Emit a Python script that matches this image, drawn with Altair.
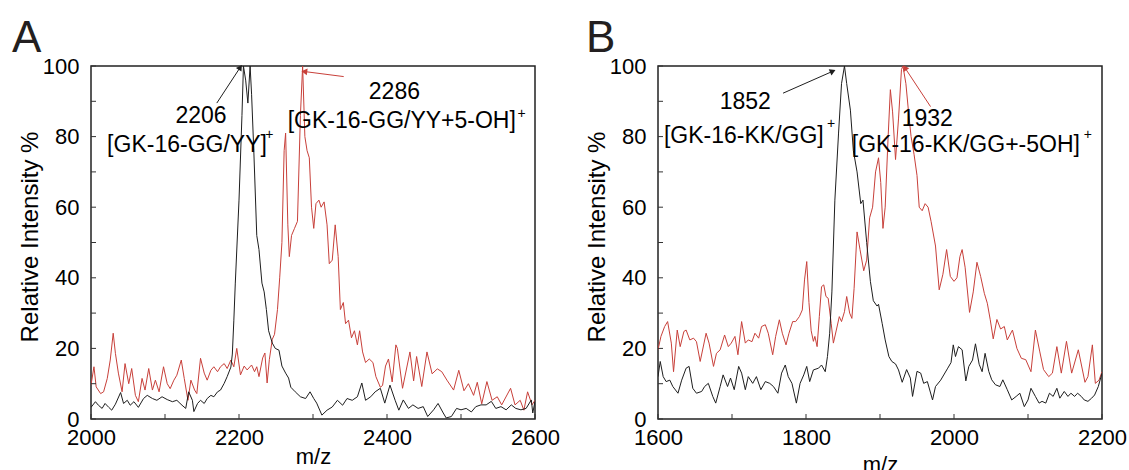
import math
import altair as alt
import pandas as pd

FONT = "Liberation Sans"
W, H = 444, 353
BLACK = "#1e1e1e"
RED = "#c8403a"

# ---------------- data (m/z, relative intensity %) ----------------
A_black = [(2000,3.3),(2006,4.9),(2010,3.9),(2015,3.0),(2019,4.4),(2024,3.3),(2028,2.5),(2033,4.2),(2040,7.5),(2044,4.4),
           (2049,5.3),(2053,3.9),(2058,4.9),(2064,3.3),(2071,5.8),(2076,6.7),(2083,5.8),(2089,5.3),(2096,6.3),(2103,5.5),
           (2110,4.9),(2116,5.3),(2123,3.9),(2128,3.0),(2132,7.7),(2137,5.3),(2139,2.1),(2144,4.4),(2148,5.3),(2153,4.4),
           (2157,5.8),(2162,6.7),(2166,6.3),(2171,7.7),(2175,8.2),(2180,10.1),(2184,12),(2189,14.7),(2191,18.4),(2193,27.8),
           (2195,38.5),(2200,62),(2204,86),(2206,100),(2209,96),(2212,89.5),(2215,100),(2217,92),(2220,76),(2224,52),
           (2227,48),(2231,38.5),(2234,36),(2237,31),(2240,25),(2245,21.5),(2249,20),(2254,19.5),(2258,15),(2263,13),
           (2267,11.6),(2270,9),(2276,7.7),(2283,6.3),(2290,5.8),(2296,7.7),(2301,5.8),(2305,4.5),(2312,1.1),(2319,2.5),
           (2326,3.4),(2333,5.3),(2340,3.9),(2346,5.8),(2353,5.3),(2360,6.3),(2366,10.2),(2371,5.3),(2378,6.3),(2384,7.7),
           (2391,8.7),(2397,4.5),(2404,9.6),(2411,5.3),(2416,2.5),(2422,5.4),(2429,3),(2435,4),(2442,3),(2449,3.5),
           (2455,0.7),(2463,2.6),(2469,4.4),(2476,1.7),(2480,0.3),(2487,0.7),(2494,3),(2500,2.6),(2507,3),(2514,2),
           (2520,3.5),(2527,4),(2534,4),(2541,5),(2547,3),(2554,3.5),(2561,2.6),(2568,4),(2574,3),(2581,2.6),
           (2588,3),(2595,5.4),(2597,1.7),(2600,5)]

A_red = [(2000,9.6),(2004,14.8),(2007,9.1),(2013,7.2),(2017,7.7),(2022,11.5),(2026,16.7),(2030,24.3),(2033,18.6),(2037,13),
         (2042,7.7),(2046,15.7),(2051,10),(2055,14.3),(2060,6.7),(2064,4.9),(2069,11.5),(2073,8.2),(2078,14.3),(2083,8.2),
         (2087,11),(2092,7.7),(2098,14.8),(2103,10),(2107,8.6),(2112,11),(2116,12.4),(2122,16.7),(2126,11.5),(2131,5.3),
         (2135,11),(2140,8.2),(2143,7.2),(2148,17.2),(2153,13),(2157,11),(2162,13.8),(2166,14.8),(2171,13.4),(2175,14.8),
         (2180,15.7),(2184,14.3),(2189,16.7),(2193,14.8),(2197,20),(2202,12.5),(2207,15),(2211,13.9),(2217,15.3),(2221,13.4),
         (2224,14.8),(2227,12),(2232,17.3),(2235,18.7),(2238,10.2),(2241,16.8),(2245,22.6),(2248,24),(2252,31),(2255,40),
         (2258,50),(2261,76),(2263,81),(2266,55),(2268,46),(2271,52),(2275,54),(2279,56),(2283,86),(2286,100),
         (2289,80),(2292,76),(2295,74),(2298,60),(2301,54),(2304,61),(2308,62),(2311,60),(2315,61.5),(2319,55),
         (2322,44),(2326,45),(2330,55),(2334,46),(2337,31),(2341,33),(2344,27),(2348,28),(2352,23),(2356,25),
         (2360,21),(2363,25),(2367,19),(2371,16),(2376,17),(2381,16),(2385,12),(2391,9),(2394,9.5),(2398,15),
         (2402,17),(2407,10.5),(2412,21),(2414,20),(2421,8.7),(2431,19),(2436,10.8),(2440,17.7),(2447,9.2),(2454,19),
         (2461,12.8),(2468,14.2),(2474,13.4),(2481,11),(2490,8.2),(2497,13.8),(2504,8),(2510,10),(2517,6.7),(2522,10.4),
         (2528,4.3),(2535,10.6),(2542,5.3),(2549,6.3),(2555,4),(2567,8.7),(2573,4),(2580,5.3),(2585,2.5),(2590,7.7),
         (2596,4),(2600,5.3)]

B_black = [(1600,12),(1603,16.3),(1607,12),(1611,10.6),(1616,11),(1620,9.2),(1627,7.3),(1632,11),(1638,14.4),(1642,14.9),
           (1647,8.7),(1652,7.3),(1659,7.8),(1663,9.2),(1668,10.1),(1674,6.4),(1678,4.5),(1684,9.2),(1688,12.5),(1694,9.2),
           (1698,11.6),(1703,8.3),(1709,14.9),(1713,13),(1718,8.3),(1722,12),(1728,10.1),(1733,12),(1739,8.3),(1745,10.6),
           (1751,10.1),(1756,9.2),(1762,7.3),(1767,13),(1772,15.3),(1776,12),(1781,10.1),(1787,4.5),(1792,10.1),(1797,12.5),
           (1801,14.9),(1805,10.6),(1810,13.9),(1817,14.4),(1821,15.3),(1826,13.4),(1829,17.7),(1832,24.3),(1835,36),(1839,62),
           (1844,81),(1848,95),(1852,100),(1855,95),(1860,87.5),(1864,76),(1869,70),(1874,61),(1877,62),(1882,50),
           (1887,39),(1891,33.5),(1896,32),(1898,32.5),(1903,27),(1907,22.4),(1912,17.7),(1916,16.3),(1921,15.6),(1925,13.9),
           (1930,10.4),(1936,14),(1941,11.6),(1944,6.4),(1950,13.5),(1955,13),(1959,10.1),(1964,10.6),(1971,5.4),(1975,9.2),
           (1982,11),(1991,14.2),(1996,16),(1999,21),(2002,17.7),(2006,20.5),(2011,19.6),(2016,10.8),(2020,14.9),(2025,16.7),
           (2029,21.3),(2034,15.5),(2038,13.4),(2042,18.6),(2047,13.5),(2051,11.1),(2056,9.7),(2062,9.2),(2066,11.1),(2072,8.3),
           (2078,5.4),(2084,6.4),(2089,7.3),(2095,3.5),(2100,5.4),(2104,8.7),(2110,6.4),(2115,4.5),(2119,5),(2124,4.5),
           (2129,7.3),(2134,6.4),(2139,8.7),(2143,5.9),(2149,7.8),(2154,6.4),(2158,7.3),(2163,6.4),(2167,7.3),(2172,6.4),
           (2176,5.4),(2181,5),(2186,5.9),(2190,6.8),(2195,9.2),(2200,13)]

B_red = [(1600,19.6),(1604,23.4),(1609,26.2),(1613,27.6),(1618,21.5),(1621,13.4),(1626,25.2),(1630,20.5),(1635,24.8),(1638,25.2),
         (1643,22.4),(1648,22.9),(1652,21.9),(1657,16.3),(1665,24.3),(1669,21.5),(1675,14.9),(1679,18.6),(1684,19.6),(1690,23.8),
         (1695,20.5),(1699,21.5),(1704,23.4),(1708,18.2),(1713,27.6),(1718,21.5),(1722,22.4),(1727,21.9),(1731,24.3),(1736,22.9),
         (1740,26.2),(1745,26.7),(1749,24.3),(1755,18.2),(1759,23.4),(1764,28.1),(1768,24.3),(1773,21),(1777,24.3),(1782,27.6),
         (1786,27.6),(1791,29),(1795,30.9),(1798,39.4),(1801,44.6),(1804,33),(1807,25),(1810,22),(1812,23.4),(1815,20.5),
         (1818,29),(1821,37.5),(1824,38),(1827,34.7),(1830,34.2),(1834,27.1),(1837,21.5),(1841,25.2),(1845,29),(1848,27.6),
         (1852,30.4),(1855,34.7),(1859,30),(1862,28.5),(1865,37),(1869,53),(1873,48),(1878,42),(1882,45),(1886,57),
         (1890,60),(1894,70),(1898,74),(1901,67),(1904,54),(1907,60),(1911,80),(1914,93.3),(1917,87),(1921,73.5),
         (1925,85),(1929,99),(1931,100),(1935,95),(1939,86),(1942,80),(1946,75),(1950,69),(1953,60),(1957,59),
         (1961,61),(1965,60),(1969,56),(1975,49),(1980,36.6),(1985,41),(1990,48),(1995,40.4),(2000,39),(2004,40),
         (2008,46),(2011,48),(2015,43),(2021,30.2),(2026,36),(2031,44.4),(2036,40.4),(2041,35.6),(2045,32.8),(2049,28.1),
         (2053,22.7),(2058,28.2),(2063,25.5),(2068,26.2),(2072,22.4),(2079,25.2),(2085,20),(2091,17.2),(2097,16.8),(2104,13.4),
         (2110,25.2),(2116,19),(2121,14),(2128,12),(2133,13),(2139,20.5),(2145,13),(2152,22),(2159,13),(2168,19.6),
         (2177,10.4),(2181,12),(2187,21),(2191,10.1),(2196,11),(2200,13.4)]

A_domain = [2000, 2600]
B_domain = [1600, 2200]
A_xlabels = [2000, 2200, 2400, 2600]
B_xlabels = [1600, 1800, 2000, 2200]
Y_labels = [0, 20, 40, 60, 80, 100]

# annotation texts: (text, m/z, intensity)
A_texts = [("2206", 2148.6, 85.8), ("[GK-16-GG/YY]", 2129.7, 77.6),
           ("2286", 2410, 92.5), ("[GK-16-GG/YY+5-OH]", 2420, 84.3)]
A_sups = [("+", 2241, 80.5), ("+", 2582, 86.5)]
A_arrows = [(2170, 89.5, 2201, 99.4, BLACK), (2341.5, 97, 2289.6, 98.4, RED)]

B_texts = [("1852", 1718, 89.9), ("[GK-16-KK/GG]", 1716, 80.2),
           ("1932", 1963.8, 85.1), ("[GK-16-KK/GG+-5OH]", 2016, 77.6)]
B_sups = [("+", 1834, 83.5), ("+", 2181, 80.5)]
B_arrows = [(1769, 92.3, 1835, 98.4, BLACK), (1968.3, 88.5, 1934.3, 99.3, RED)]


def panel(black, red, dom, xlabels, texts, sups, arrows, letter, letter_x, xtitle_y):
    xs = alt.Scale(domain=dom, nice=False, zero=False)
    ys = alt.Scale(domain=[0, 100], nice=False, zero=True)
    xax = alt.Axis(values=xlabels, format="d", ticks=False, domain=False, grid=False,
                   labelFont=FONT, labelFontSize=22, labelColor="black", labelPadding=8,
                   labelFlush=False, labelOverlap=False,
                   titleFont=FONT, titleFontSize=22, titleFontWeight="normal", titleColor="black",
                   titleX=W / 2, titleY=xtitle_y, titleBaseline="alphabetic")
    yax = alt.Axis(values=Y_labels, format="d", ticks=False, domain=False, grid=False,
                   labelFont=FONT, labelFontSize=22, labelColor="black", labelPadding=12,
                   titleFont=FONT, titleFontSize=24, titleFontWeight="normal", titleColor="black",
                   titleX=-61, titleY=H / 2 - 6, titleAlign="center", titleBaseline="middle")

    def X(f="mz"):
        return alt.X(f"{f}:Q", scale=xs, axis=xax, title="m/z")

    def Y(f="val"):
        return alt.Y(f"{f}:Q", scale=ys, axis=yax, title="Relative Intensity %")

    red_df = pd.DataFrame(red, columns=["mz", "val"])
    black_df = pd.DataFrame(black, columns=["mz", "val"])
    red_line = alt.Chart(red_df).mark_line(color=RED, strokeWidth=1, clip=True).encode(x=X(), y=Y())
    black_line = alt.Chart(black_df).mark_line(color=BLACK, strokeWidth=1, clip=True).encode(x=X(), y=Y())

    # inward ticks
    ytick_df = pd.DataFrame({"val": list(range(0, 101, 10))})
    xtick_df = pd.DataFrame({"mz": list(range(dom[0], dom[1] + 1, 100))})
    yticks = alt.Chart(ytick_df).mark_rule(color="#333", strokeWidth=1).encode(
        y=Y(), x=alt.value(0), x2=alt.value(5))
    xticks = alt.Chart(xtick_df).mark_rule(color="#333", strokeWidth=1).encode(
        x=X(), y=alt.value(H), y2=alt.value(H - 5))

    t_df = pd.DataFrame(texts, columns=["label", "mz", "val"])
    txt = alt.Chart(t_df).mark_text(font=FONT, fontSize=23, color="black", align="center",
                                    baseline="middle").encode(x=X(), y=Y(), text="label:N")
    s_df = pd.DataFrame(sups, columns=["label", "mz", "val"])
    sup = alt.Chart(s_df).mark_text(font=FONT, fontSize=14, color="black", align="center",
                                    baseline="middle").encode(x=X(), y=Y(), text="label:N")

    rows = []
    for (m1, v1, m2, v2, c) in arrows:
        dxp = (m2 - m1) * W / (dom[1] - dom[0])
        dyp = -(v2 - v1) * H / 100
        ang = math.degrees(math.atan2(dxp, -dyp)) % 360
        rows.append({"mz": m1, "val": v1, "mz2": m2, "val2": v2, "col": c, "ang": ang})
    a_df = pd.DataFrame(rows)
    arrow_lines = alt.Chart(a_df).mark_rule(strokeWidth=1).encode(
        x=X(), y=Y(), x2="mz2:Q", y2="val2:Q", color=alt.Color("col:N", scale=None))
    heads = alt.Chart(a_df).mark_point(shape="triangle", filled=True, size=45, opacity=1).encode(
        x=X("mz2"), y=Y("val2"),
        color=alt.Color("col:N", scale=None), angle=alt.Angle("ang:Q", scale=None))

    let = alt.Chart(pd.DataFrame({"label": [letter]})).mark_text(
        font=FONT, fontSize=44, color="#231f20", align="left", baseline="alphabetic").encode(
        text="label:N", x=alt.value(letter_x), y=alt.value(-14))

    return alt.layer(red_line, black_line, yticks, xticks, arrow_lines, heads, txt, sup, let).properties(
        width=W, height=H)


pA = panel(A_black, A_red, A_domain, A_xlabels, A_texts, A_sups, A_arrows, "A", -79, 44)
pB = panel(B_black, B_red, B_domain, B_xlabels, B_texts, B_sups, B_arrows, "B", -72, 52)

chart = alt.hconcat(pA, pB, spacing=23).configure_view(
    stroke="#222", strokeWidth=1.5).properties(
    padding={"left": 11, "top": 16, "right": 0, "bottom": 0}, background="white")

chart.save("out.html", embed_options={"renderer": "svg", "actions": False})
